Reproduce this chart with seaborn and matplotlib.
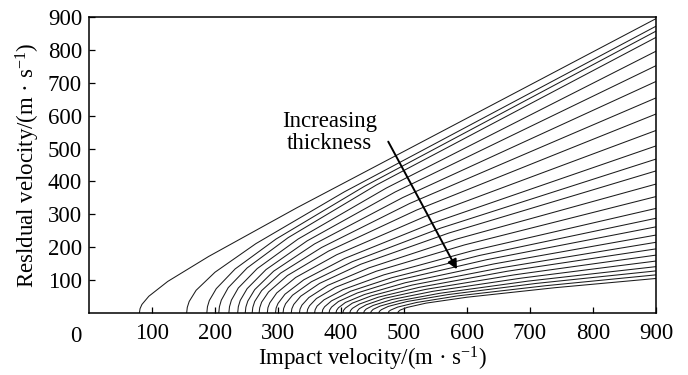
import matplotlib
matplotlib.use("Agg")
import matplotlib.pyplot as plt
import seaborn as sns
import pandas as pd

sns.set_theme(style="white")
plt.rcParams['font.family'] = ['Liberation Serif', 'DejaVu Serif']
plt.rcParams['mathtext.fontset'] = 'custom'
plt.rcParams['mathtext.rm'] = 'Liberation Serif'
plt.rcParams['mathtext.it'] = 'Liberation Serif:italic'
plt.rcParams['mathtext.bf'] = 'Liberation Serif:bold'

# impact velocity points (m/s) of each curve
impact_velocity = [
    [80, 81, 84, 95, 125, 190, 330, 900],
    [155, 156, 159, 170, 200, 265, 405, 900],
    [187, 188, 191, 202, 232, 297, 437, 900],
    [206, 207, 210, 221, 251, 316, 456, 900],
    [222, 223, 226, 237, 267, 332, 472, 900],
    [236, 237, 240, 251, 281, 346, 486, 900],
    [248, 249, 252, 263, 293, 358, 498, 900],
    [259, 260, 263, 274, 304, 369, 509, 900],
    [270, 271, 274, 285, 315, 380, 520, 900],
    [283, 284, 287, 298, 328, 393, 533, 900],
    [296, 297, 300, 311, 341, 406, 546, 900],
    [308, 309, 312, 323, 353, 418, 558, 900],
    [321, 322, 325, 336, 366, 431, 571, 900],
    [334, 335, 338, 349, 379, 444, 584, 900],
    [346, 347, 350, 361, 391, 456, 596, 900],
    [358, 359, 362, 373, 403, 468, 608, 900],
    [370, 371, 374, 385, 415, 480, 620, 900],
    [381, 382, 385, 396, 426, 491, 631, 900],
    [392, 393, 396, 407, 437, 502, 642, 900],
    [403, 404, 407, 418, 448, 513, 653, 900],
    [414, 415, 418, 429, 459, 524, 664, 900],
    [425, 426, 429, 440, 470, 535, 675, 900],
    [436, 437, 440, 451, 481, 546, 686, 900],
    [447, 448, 451, 462, 492, 557, 697, 900],
    [460, 461, 464, 475, 505, 570, 710, 900],
    [475, 476, 479, 490, 520, 585, 725, 900],
    [490, 491, 494, 505, 535, 600, 740, 900],
]

# residual velocity points (m/s) of each curve
residual_velocity = [
    [0, 13, 26, 51, 96, 172, 320, 895],
    [0, 17, 35, 69, 124, 211, 368, 872],
    [0, 19, 38, 74, 134, 225, 385, 857],
    [0, 19, 39, 77, 137, 229, 389, 838],
    [0, 19, 39, 76, 135, 225, 380, 796],
    [0, 19, 38, 74, 132, 219, 368, 752],
    [0, 18, 36, 71, 127, 210, 351, 704],
    [0, 17, 35, 68, 121, 199, 333, 654],
    [0, 16, 33, 64, 114, 188, 313, 605],
    [0, 16, 31, 61, 108, 177, 293, 555],
    [0, 15, 29, 57, 101, 166, 274, 508],
    [0, 14, 28, 54, 95, 156, 258, 468],
    [0, 13, 26, 51, 90, 148, 243, 432],
    [0, 12, 24, 47, 84, 137, 225, 392],
    [0, 11, 22, 44, 78, 127, 207, 354],
    [0, 10, 21, 40, 71, 116, 189, 318],
    [0, 10, 19, 37, 66, 107, 175, 288],
    [0, 9, 18, 35, 61, 100, 162, 262],
    [0, 8, 16, 32, 56, 92, 149, 237],
    [0, 8, 15, 30, 52, 85, 137, 215],
    [0, 7, 14, 27, 48, 78, 127, 195],
    [0, 6, 13, 25, 45, 72, 116, 176],
    [0, 6, 12, 23, 41, 66, 106, 158],
    [0, 5, 11, 21, 37, 60, 97, 141],
    [0, 5, 10, 20, 35, 56, 90, 128],
    [0, 5, 9, 18, 32, 52, 83, 116],
    [0, 4, 9, 17, 30, 48, 77, 105],
]

x_ticks = [100, 200, 300, 400, 500, 600, 700, 800, 900]
y_ticks = [100, 200, 300, 400, 500, 600, 700, 800, 900]

arrow_start = (475, 521)
arrow_end = (584, 133)
annotation_text = "Increasing\nthickness"
annotation_pos = (382, 549)

rows = []
for i, (xs, ys) in enumerate(zip(impact_velocity, residual_velocity)):
    for x, y in zip(xs, ys):
        rows.append({"curve": i, "impact": x, "residual": y})
df = pd.DataFrame(rows)

FS = 16.5
fig = plt.figure(figsize=(6.88, 3.75), dpi=100)
ax = fig.add_axes([89 / 688, 62 / 375, 567 / 688, 296 / 375])

sns.lineplot(data=df, x="impact", y="residual", units="curve", estimator=None,
             color="#1c1c1c", lw=0.75, sort=False, legend=False, ax=ax)

ax.set_xlim(0, 900)
ax.set_ylim(0, 900)
ax.set_xticks(x_ticks)
ax.set_yticks(y_ticks)
ax.tick_params(axis="both", direction="in", length=4.5, width=0.9,
               labelsize=FS, colors="black", bottom=True, left=True,
               top=False, right=False)
ax.tick_params(axis="x", pad=7)
ax.tick_params(axis="y", pad=5)
for s in ax.spines.values():
    s.set_visible(True)
    s.set_color("black")
    s.set_linewidth(1.1)

ax.set_xlabel(r"Impact velocity/(m · s$^{-1}$)", fontsize=FS, labelpad=1, color="black")
ax.set_ylabel(r"Resldual velocity/(m · s$^{-1}$)", fontsize=FS, labelpad=4, color="black")

fig.text(75.5 / 688, 1 - 336 / 375, "0", ha="center", va="center", fontsize=FS, color="black")

ax.annotate("", xy=arrow_end, xytext=arrow_start,
            arrowprops=dict(arrowstyle="-|>", color="black", lw=1.4, mutation_scale=14,
                            shrinkA=0, shrinkB=0))
ax.text(annotation_pos[0], annotation_pos[1], annotation_text, ha="center", va="center",
        fontsize=FS, linespacing=1.1, color="black")

fig.savefig("out.png", dpi=100)
